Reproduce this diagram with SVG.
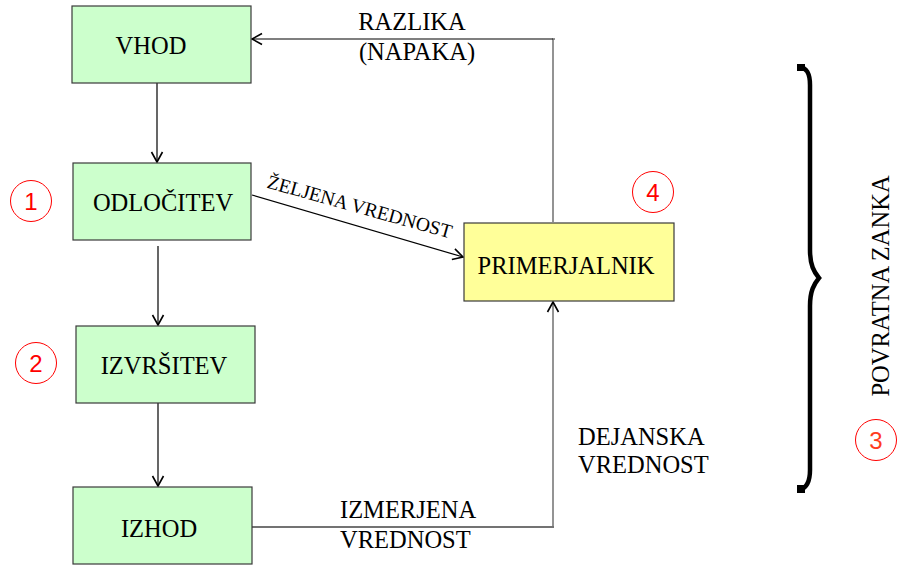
<svg xmlns="http://www.w3.org/2000/svg" width="897" height="567" viewBox="0 0 897 567">
<style>
.box{stroke:#3a3a3a;stroke-width:1.2}
.g{fill:#ccffcc}
.y{fill:#ffff99}
.c{fill:none;stroke:#000;stroke-width:1.2}
.gr{fill:none;stroke:#707070;stroke-width:1.5}
.n{fill:none;stroke:#ff0000;stroke-width:1}
</style>
<defs>
<marker id="arr" markerUnits="userSpaceOnUse" markerWidth="14" markerHeight="14" viewBox="-12 -7 14 14" refX="0" refY="0" orient="auto">
<path d="M-10,-5.5 L0,0 L-10,5.5" fill="none" stroke="#000" stroke-width="1.6"/>
</marker>
</defs>
<rect width="897" height="567" fill="#fff"/>
<g id="connectors">
<line class="c" x1="157" y1="83" x2="157" y2="162" marker-end="url(#arr)"/>
<line class="c" x1="158" y1="246" x2="158" y2="325" marker-end="url(#arr)"/>
<line class="c" x1="158" y1="403" x2="158" y2="486" marker-end="url(#arr)"/>
<line class="c" x1="252" y1="195" x2="463" y2="257" marker-end="url(#arr)"/>
<polyline class="gr" points="553,222 553,39 555,39"/>
<line class="c" x1="553" y1="39" x2="252" y2="39" marker-end="url(#arr)"/>
<line x1="250" y1="527" x2="554" y2="527" stroke="#444" stroke-width="1.5"/>
<line class="gr" x1="553" y1="527" x2="553" y2="302" marker-end="url(#arr)"/>
</g>
<g font-family="Liberation Serif, Times New Roman, serif" font-size="24.5" fill="#000">
<g id="vhod"><rect class="box g" x="72" y="6" width="179" height="77"/><text x="151" y="54" text-anchor="middle">VHOD</text></g>
<g id="odlocitev"><rect class="box g" x="73" y="163" width="178" height="77"/><text x="163" y="211" text-anchor="middle">ODLOČITEV</text></g>
<g id="izvrsitev"><rect class="box g" x="76" y="326" width="179" height="77"/><text x="164" y="374" text-anchor="middle">IZVRŠITEV</text></g>
<g id="izhod"><rect class="box g" x="73" y="487" width="179" height="77"/><text x="159" y="537" text-anchor="middle">IZHOD</text></g>
<g id="primerjalnik"><rect class="box y" x="464" y="223" width="210" height="78"/><text x="566" y="274" text-anchor="middle">PRIMERJALNIK</text></g>
<g id="labels">
<text x="412" y="30" text-anchor="middle">RAZLIKA</text>
<text x="417" y="60" text-anchor="middle">(NAPAKA)</text>
<text x="358" y="213" text-anchor="middle" font-size="19.5" transform="rotate(15.5 358 213)">ŽELJENA VREDNOST</text>
<text x="340" y="518">IZMERJENA</text>
<text x="340" y="548">VREDNOST</text>
<text x="578" y="445">DEJANSKA</text>
<text x="578" y="473">VREDNOST</text>
<text x="889" y="286" text-anchor="middle" transform="rotate(-90 889 286)">POVRATNA ZANKA</text>
</g>
</g>
<g id="brace">
<path d="M800,67 C806,68 810,72 810,85 L810,250 C810,265 814,272 819,278 C814,284 810,291 810,306 L810,470 C810,482 806,488 800,490" fill="none" stroke="#000" stroke-width="4.5"/>
<rect x="797" y="64" width="8" height="7" fill="#000"/>
<rect x="797" y="485" width="8" height="8" fill="#000"/>
</g>
<g font-family="Liberation Sans, Arial, sans-serif" font-size="24" fill="#ff0000" text-anchor="middle">
<g id="n1"><circle class="n" cx="31" cy="201" r="20.5"/><text x="31" y="210">1</text></g>
<g id="n2"><circle class="n" cx="36" cy="363" r="20.5"/><text x="36" y="372">2</text></g>
<g id="n4"><circle class="n" cx="653" cy="192" r="20.5"/><text x="653" y="201">4</text></g>
<g id="n3"><circle class="n" cx="876" cy="440" r="20.5"/><text x="876" y="449" fill="#ff3c1e">3</text></g>
</g>
</svg>
